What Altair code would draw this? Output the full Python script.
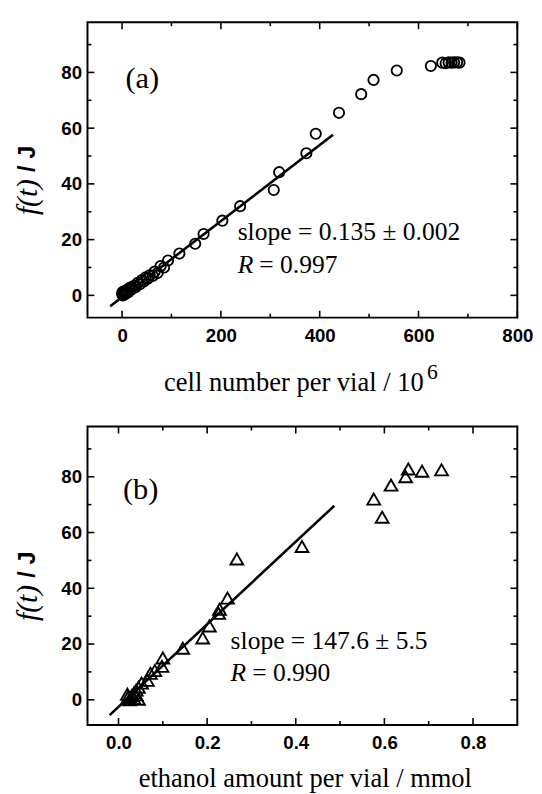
import altair as alt
import pandas as pd

# ---------------- Panel (a): cell number ----------------
a_cells = [0, 1, 2, 3, 5, 6, 8, 10, 12, 14, 16, 19, 22, 25, 28, 32, 36, 40, 44, 48,
           52, 56, 62, 66, 72, 78, 85, 93, 116, 148, 165, 203, 239, 307, 318, 373,
           392, 439, 484, 509, 556, 625, 648, 655, 661, 667, 672, 678, 683]
a_f = [0.5, 1.2, 0.0, 0.8, 1.5, 0.4, 1.2, 2.0, 1.0, 2.5, 1.8, 3.0, 2.5, 3.5, 3.0, 4.5,
       4.0, 5.5, 5.0, 6.5, 6.0, 7.2, 7.0, 8.5, 8.0, 10.5, 10.0, 12.5, 15.0, 18.5, 22.0,
       26.8, 32.0, 37.8, 44.2, 51.0, 58.0, 65.5, 72.2, 77.3, 80.7, 82.3, 83.5, 83.3,
       83.6, 83.5, 83.6, 83.6, 83.5]
a_fit_x = [-24, 427]
a_fit_y = [-3.9, 57.6]
a_x_major = [0, 200, 400, 600, 800]
a_x_minor = [100, 300, 500, 700]
a_xdomain = [-70, 800]
a_ydomain = [-8, 98]

# ---------------- Panel (b): ethanol amount ----------------
b_eth = [0.267, 0.414, 0.576, 0.595, 0.615, 0.648, 0.654, 0.685, 0.729,
         0.246, 0.228, 0.226, 0.205, 0.190, 0.145, 0.100, 0.098, 0.082, 0.072,
         0.065, 0.052, 0.045, 0.040, 0.035, 0.030, 0.028, 0.025, 0.022, 0.035,
         0.040, 0.045, 0.020]
b_f = [50.5, 55.0, 72.0, 65.5, 77.0, 80.0, 82.8, 82.0, 82.5,
       36.5, 32.5, 31.0, 26.5, 22.2, 18.5, 15.0, 12.0, 10.5, 9.5,
       7.0, 6.0, 4.5, 3.5, 2.5, 1.5, 0.5, 0.0, 1.0, 0.5, 1.8, 0.2, 2.0]
b_fit_x = [-0.02, 0.487]
b_fit_y = [-5.5, 69.6]
b_x_major = [0.0, 0.2, 0.4, 0.6, 0.8]
b_x_minor = [0.1, 0.3, 0.5, 0.7]
b_xdomain = [-0.07, 0.9]
b_ydomain = [-9, 98]

y_major = [0, 20, 40, 60, 80]
y_minor = [10, 30, 50, 70, 90]

# texts
a_tag, b_tag = "(a)", "(b)"
a_slope, b_slope = "slope = 0.135 ± 0.002", "slope = 147.6 ± 5.5"
a_r, b_r = "= 0.997", "= 0.990"
a_xtitle, a_xsup = "cell number per vial / 10", "6"
b_xtitle = "ethanol amount per vial / mmol"
y_title_1, y_title_2 = "f(t)", "/ J"

SERIF = "Liberation Serif"
SANS = "Liberation Sans"

W_A, H_A = 438, 301
W_B, H_B = 438, 304


def make_axis(vals, fmt, pad):
    return alt.Axis(values=vals, format=fmt, title=None, domain=False, ticks=False,
                    tickSize=0, grid=False, labelFont=SANS, labelFontWeight="bold",
                    labelFontSize=19, labelPadding=pad, labelColor="black",
                    labelFlush=False, labelOverlap=False)


def panel(df_pts, shape, size, fit_x, fit_y, xdom, ydom, xmaj, xmin, xfmt, W, H,
          tag, tag_pos, slope_txt, r_txt, txt_pos, r_pos):
    xax = make_axis(xmaj, xfmt, 9)
    yax = make_axis(y_major, "d", 6)

    def X(f):
        return alt.X(f, type="quantitative",
                     scale=alt.Scale(domain=xdom, nice=False, zero=False), axis=xax)

    def Y(f):
        return alt.Y(f, type="quantitative",
                     scale=alt.Scale(domain=ydom, nice=False, zero=False), axis=yax)

    layers = []
    layers.append(alt.Chart(df_pts).mark_point(shape=shape, filled=False, size=size,
                                               strokeWidth=1.9, color="black", opacity=1)
                  .encode(x=X("x"), y=Y("y")))
    fit = pd.DataFrame({"x": fit_x, "y": fit_y})
    layers.append(alt.Chart(fit).mark_line(color="black", strokeWidth=2.6)
                  .encode(x=X("x"), y=Y("y")))
    # inward ticks on all four sides
    for vals, L in [(xmaj, 7), (xmin, 4)]:
        d = pd.DataFrame({"v": vals})
        base = alt.Chart(d).mark_rule(color="black", strokeWidth=1.6)
        layers.append(base.encode(x=X("v"), y=alt.value(H), y2=alt.value(H - L)))
        layers.append(base.encode(x=X("v"), y=alt.value(0), y2=alt.value(L)))
    for vals, L in [(y_major, 7), (y_minor, 4)]:
        d = pd.DataFrame({"v": vals})
        base = alt.Chart(d).mark_rule(color="black", strokeWidth=1.6)
        layers.append(base.encode(y=Y("v"), x=alt.value(0), x2=alt.value(L)))
        layers.append(base.encode(y=Y("v"), x=alt.value(W), x2=alt.value(W - L)))
    # annotations
    one = pd.DataFrame({"k": [0]})
    layers.append(alt.Chart(one).mark_text(text=tag, font=SERIF, fontSize=31, color="black",
                                           align="center", baseline="middle")
                  .encode(x=alt.datum(tag_pos[0]), y=alt.datum(tag_pos[1])))
    layers.append(alt.Chart(one).mark_text(text=slope_txt, font=SERIF, fontSize=26,
                                           color="black", align="left", baseline="middle")
                  .encode(x=alt.datum(txt_pos[0]), y=alt.datum(txt_pos[1])))
    layers.append(alt.Chart(one).mark_text(text="R", font=SERIF, fontStyle="italic",
                                           fontSize=26, color="black", align="left",
                                           baseline="middle")
                  .encode(x=alt.datum(r_pos[0]), y=alt.datum(r_pos[1])))
    layers.append(alt.Chart(one).mark_text(text=r_txt, font=SERIF, fontSize=26, dx=22,
                                           color="black", align="left", baseline="middle")
                  .encode(x=alt.datum(r_pos[0]), y=alt.datum(r_pos[1])))
    # rotated y title
    cy = H / 2
    layers.append(alt.Chart(one).mark_text(text=y_title_1, font=SERIF, fontStyle="italic",
                                           fontSize=30, angle=270, align="left",
                                           baseline="middle", color="black")
                  .encode(x=alt.value(-60), y=alt.value(cy + 46)))
    layers.append(alt.Chart(one).mark_text(text=y_title_2, font=SANS, fontWeight="bold",
                                           fontSize=24, angle=270, align="left",
                                           baseline="middle", color="black")
                  .encode(x=alt.value(-60), y=alt.value(cy + 2)))
    return layers, one


pts_a = pd.DataFrame({"x": a_cells, "y": a_f})
pts_b = pd.DataFrame({"x": b_eth, "y": b_f})

la, one = panel(pts_a, "circle", 110, a_fit_x, a_fit_y, a_xdomain, a_ydomain,
                a_x_major, a_x_minor, "d", W_A, H_A, a_tag, (41, 77.5),
                a_slope, a_r, (234, 22.5), (234, 11.0))
la.append(alt.Chart(one).mark_text(text=a_xtitle, font=SERIF, fontSize=27, color="black",
                                   align="left", baseline="alphabetic")
          .encode(x=alt.value(78), y=alt.value(H_A + 75)))
la.append(alt.Chart(one).mark_text(text=a_xsup, font=SERIF, fontSize=22, color="black",
                                   align="left", baseline="alphabetic")
          .encode(x=alt.value(346), y=alt.value(H_A + 63)))

lb, one = panel(pts_b, "triangle-up", 170, b_fit_x, b_fit_y, b_xdomain, b_ydomain,
                b_x_major, b_x_minor, ".1f", W_B, H_B, b_tag, (0.05, 75.2),
                b_slope, b_r, (0.253, 21.0), (0.253, 9.6))
lb.append(alt.Chart(one).mark_text(text=b_xtitle, font=SERIF, fontSize=27, color="black",
                                   align="center", baseline="alphabetic")
          .encode(x=alt.value(W_B / 2 + 3), y=alt.value(H_B + 63)))

chart_a = alt.layer(*la).properties(width=W_A, height=H_A)
chart_b = alt.layer(*lb).properties(width=W_B, height=H_B)

chart = (alt.vconcat(chart_a, chart_b, spacing=28)
         .properties(padding={"left": 5, "top": 5, "right": 0, "bottom": 0},
                     background="white")
         .configure_view(stroke="black", strokeWidth=2)
         .configure_concat(spacing=28))

chart.save("out.html", embed_options={"renderer": "svg", "actions": False})
